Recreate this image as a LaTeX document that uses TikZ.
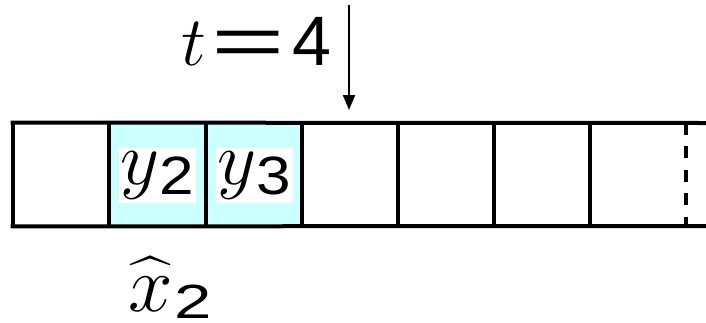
\RequirePackage{fix-cm}
\documentclass[tikz,border=0pt]{standalone}
\usepackage{exscale}
\usepackage{fontspec}
\setsansfont{Liberation Sans}
\usepackage{graphicx}
\usetikzlibrary{arrows.meta}
\definecolor{cellcyan}{HTML}{CCFFFF}
\newcommand{\subdig}[4]{\raisebox{#1}{\scalebox{#2}[1]{\sffamily\fontsize{#3}{#3}\selectfont #4}}}
\newcommand{\bighatx}{\ooalign{$x$\cr\hidewidth\scalebox{1.45}[1.1]{$\widehat{\phantom{x}}$}\hidewidth\cr}}
\begin{document}
\begin{tikzpicture}[x=0.5pt,y=-0.5pt,
  tape/.style={line width=2pt, line cap=rect},
  cell/.style={inner sep=0pt, minimum width=48pt, minimum height=51.5pt},
  hl/.style={cell, fill=cellcyan},
  lab/.style={fill=white, inner sep=0pt, minimum width=38.5pt, minimum height=27.5pt},
  arr/.style={line width=1pt, -{Triangle[length=7.5pt,width=6pt]}}]
\useasboundingbox (0,0) rectangle (706,322);
% cells
\node[cell] (c1) at (61,174.5) {};
\node[hl]   (c2) at (157,174.5) {};
\node[hl]   (c3) at (254,174.5) {};
\node[cell] (c4) at (350,174.5) {};
\node[cell] (c5) at (446,174.5) {};
\node[cell] (c6) at (542,174.5) {};
\node[cell] (c7) at (638,174.5) {};
\coordinate (tr) at (706,123);
\coordinate (br) at (706,226);
% tape lines
\draw[tape] (c1.north west) -- (tr);
\draw[tape] (c1.south west) -- (br);
\foreach \c in {c1,c2,c3,c4,c5,c6,c7}
  \draw[tape] (\c.north west) -- (\c.south west);
\draw[line width=2pt, dash pattern=on 6pt off 5.75pt] (c7.north east) -- (c7.south east);
% labels in cells
\node[lab] (y2) at ([yshift=-0.5pt]c2.center)
  {\fontsize{38}{40}\selectfont$y$\subdig{-5pt}{1.15}{27}{2}};
\node[lab] (y3) at ([yshift=-0.5pt]c3.center)
  {\fontsize{38}{40}\selectfont$y$\subdig{-5pt}{1.15}{27}{3}};
% time pointer
\coordinate (astart) at (349,5);
\coordinate (aend) at (349,110);
\draw[arr] (astart) -- (aend);
\node[anchor=base east, inner sep=0pt] (tlab) at (332,65)
  {\fontsize{35}{40}\selectfont$t$\hspace{2.5pt}{\sffamily\scalebox{1.8}[1]{=}\hspace{4pt}4}};
% estimate label
\node[anchor=base west, inner sep=0pt] (xlab) at (128,311)
  {\fontsize{40}{44}\selectfont\bighatx\hspace{1pt}\subdig{-3.5pt}{1.4}{24}{2}};
\end{tikzpicture}
\end{document}
